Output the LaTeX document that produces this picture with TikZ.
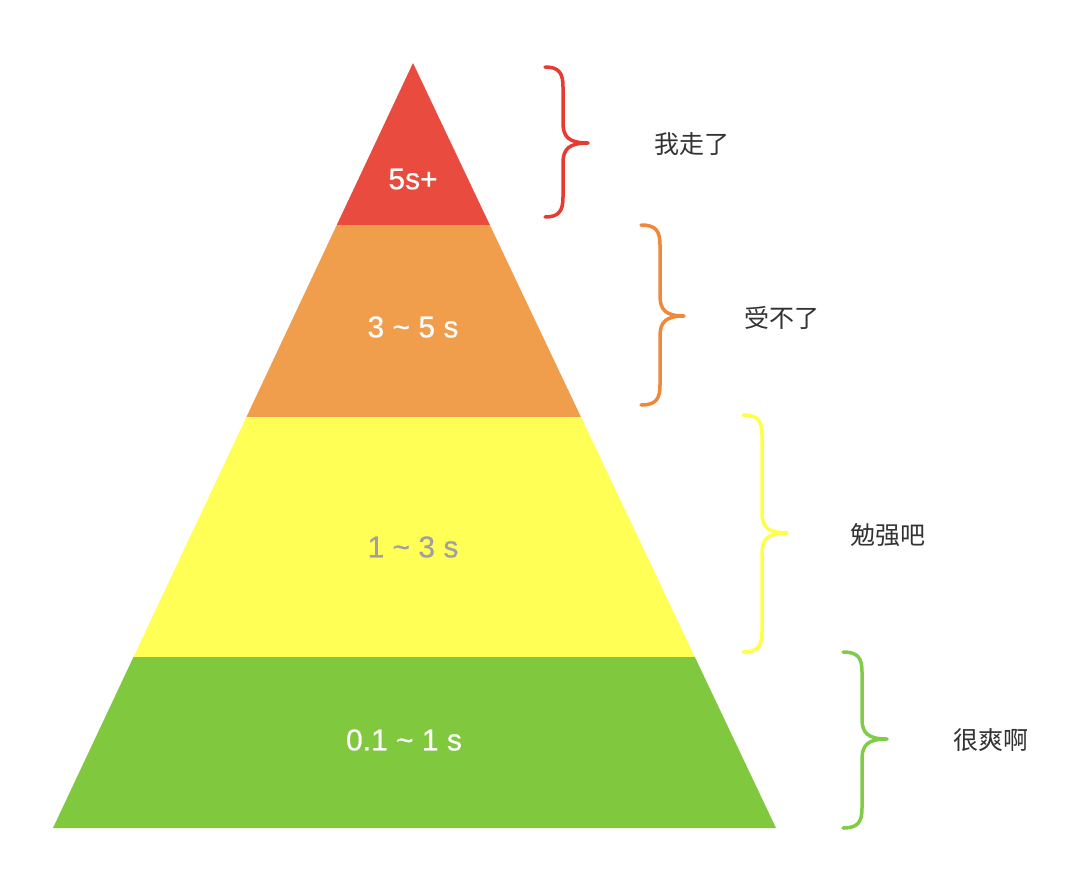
\documentclass[tikz,border=0pt]{standalone}
\usepackage{fontspec}
\setmainfont{Liberation Sans}
\newfontfamily\layerfont[FakeBold=0.6]{Liberation Sans}
\newfontfamily\cjk{Noto Sans CJK SC}
\definecolor{lred}{HTML}{E94B3F}
\definecolor{lorange}{HTML}{F19E4C}
\definecolor{lyellow}{HTML}{FFFF55}
\definecolor{lgreen}{HTML}{80C83E}
\definecolor{bred}{HTML}{E83A30}
\definecolor{borange}{HTML}{F0883A}
\definecolor{byellow}{HTML}{FFFF4A}
\definecolor{bgreen}{HTML}{80CC48}
\definecolor{graytext}{HTML}{A0A0A0}
\definecolor{darktext}{HTML}{333333}
\tikzset{
  layerlabel/.style={font=\layerfont\fontsize{30}{33}\selectfont, anchor=center, inner sep=0pt},
  sidelabel/.style={font=\cjk\fontsize{25}{28}\selectfont, text=darktext, anchor=center, inner sep=0pt},
  bracestyle/.style={line width=3.5pt, line cap=round, line join=round},
}
% brace: #1 tip x, #2 spine x, #3 point x, #4 top y, #5 mid y, #6 bottom y
\newcommand{\mybrace}[7]{%
  \draw[bracestyle, #7] (#1,#4) .. controls (#2-4,#4) and (#2,#4+6) .. (#2,#4+20)
    -- (#2,#5-20) .. controls (#2,#5-6) and (#2+6,#5) .. (#3,#5)
    .. controls (#2+6,#5) and (#2,#5+6) .. (#2,#5+20)
    -- (#2,#6-20) .. controls (#2,#6-6) and (#2-4,#6) .. (#1,#6);}
\begin{document}
\begin{tikzpicture}[x=1pt,y=-1pt]
\useasboundingbox (0,0) rectangle (1086,894);
\fill[white] (0,0) rectangle (1086,894);
\coordinate (apex) at (413,63);
\coordinate (bl) at (53,828);
\coordinate (br) at (776,828);
\begin{scope}
  \clip (apex) -- (br) -- (bl) -- cycle;
  \fill[lred] (40,50) rectangle (800,225);
  \fill[lorange] (40,225) rectangle (800,417);
  \fill[lyellow] (40,417) rectangle (800,657);
  \fill[lgreen] (40,657) rectangle (800,840);
\end{scope}
\node[layerlabel, text=white] (l5) at (413,179) {5s+};
\node[layerlabel, text=white] (l35) at (413,327) {3 \char`~{} 5 s};
\node[layerlabel, text=graytext] (l13) at (413,547) {1 \char`~{} 3 s};
\node[layerlabel, text=white] (l01) at (404,740) {0.1 \char`~{} 1 s};
\mybrace{545}{563}{588}{67}{143}{217}{bred}
\mybrace{641}{660}{684}{225}{316}{405}{borange}
\mybrace{743}{762}{787}{415}{533}{652}{byellow}
\mybrace{843}{862}{887}{652}{739}{828}{bgreen}
\node[sidelabel] (s1) at (692,144) {我走了};
\node[sidelabel] (s2) at (782,318) {受不了};
\node[sidelabel] (s3) at (888,535) {勉强吧};
\node[sidelabel] (s4) at (991,740) {很爽啊};
\end{tikzpicture}
\end{document}
